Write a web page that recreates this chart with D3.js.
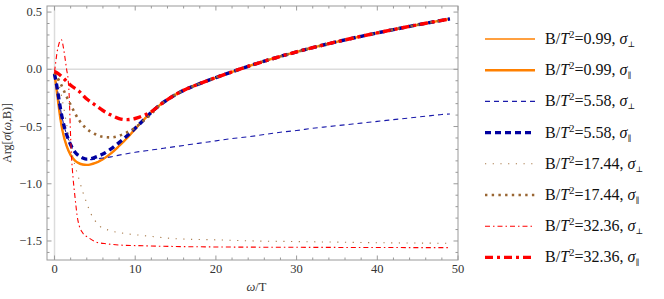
<!DOCTYPE html>
<html>
<head>
<meta charset="utf-8">
<script src="https://cdn.jsdelivr.net/npm/d3@7"></script>
<style>
  body { margin: 0; background: #fff; }
  text { font-family: "Liberation Serif", "Times New Roman", "DejaVu Serif", serif; }
</style>
</head>
<body>
<svg id="chart" width="664" height="299"></svg>
<script>
/* values: omega/T and Arg[sigma] */

// common tail that all the "parallel" curves and the B=0.99 curves share
var tailW = [13, 14, 15, 16, 17, 18, 20, 22, 24, 26, 28, 30, 32, 34, 36, 38, 40, 42, 44, 46, 48, 49];
var tailV = [-0.315, -0.265, -0.221, -0.184, -0.153, -0.125, -0.072, -0.022, 0.026, 0.071, 0.113, 0.152, 0.189, 0.224, 0.257, 0.288, 0.318, 0.347, 0.375, 0.402, 0.428, 0.44];

var orangeW = [0, 0.25, 0.5, 0.75, 1, 1.5, 2, 2.5, 3, 3.5, 4, 4.5, 5, 6, 7, 8, 9, 10, 11, 12];
var orangeV = [-0.04, -0.17, -0.31, -0.44, -0.54, -0.67, -0.75, -0.795, -0.82, -0.832, -0.835, -0.83, -0.82, -0.785, -0.735, -0.67, -0.6, -0.52, -0.445, -0.375];

var blueParW = [0, 0.25, 0.5, 0.75, 1, 1.5, 2, 2.5, 3, 3.5, 4, 4.5, 5, 6, 7, 8, 9, 10, 11, 12];
var blueParV = [-0.04, -0.13, -0.24, -0.35, -0.44, -0.57, -0.66, -0.72, -0.755, -0.775, -0.785, -0.782, -0.77, -0.74, -0.695, -0.64, -0.58, -0.515, -0.445, -0.375];

var bluePerpW = [0, 0.25, 0.5, 0.75, 1, 1.5, 2, 2.5, 3, 3.5, 4, 5, 6, 7, 8, 10, 12, 14, 16, 18, 20, 22, 24, 26, 28, 30, 32, 34, 36, 38, 40, 42, 44, 46, 48, 49];
var bluePerpV = [-0.04, -0.13, -0.24, -0.35, -0.44, -0.57, -0.66, -0.72, -0.755, -0.78, -0.79, -0.785, -0.775, -0.765, -0.75, -0.725, -0.705, -0.685, -0.665, -0.645, -0.625, -0.605, -0.59, -0.57, -0.55, -0.535, -0.515, -0.5, -0.485, -0.47, -0.455, -0.44, -0.425, -0.41, -0.395, -0.39];

var brownPerpW = [0, 0.5, 1, 1.5, 2, 2.5, 3, 3.5, 4, 4.5, 5, 5.6, 6.7, 8.3, 10, 12, 15, 20, 25, 30, 35, 40, 45, 49];
var brownPerpV = [-0.03, -0.12, -0.28, -0.48, -0.67, -0.83, -0.95, -1.07, -1.17, -1.26, -1.32, -1.37, -1.405, -1.43, -1.445, -1.46, -1.48, -1.49, -1.5, -1.505, -1.51, -1.515, -1.518, -1.52];

var brownParW = [0, 0.5, 1, 1.5, 2, 3, 4, 5, 6, 7, 8, 9, 10, 11, 12];
var brownParV = [-0.03, -0.09, -0.16, -0.24, -0.31, -0.44, -0.52, -0.565, -0.59, -0.595, -0.58, -0.55, -0.51, -0.45, -0.39];

var redPerpW = [0, 0.15, 0.3, 0.5, 0.7, 0.85, 1, 1.15, 1.3, 1.5, 1.7, 1.85, 1.95, 2.1, 2.3, 2.5, 2.9, 3.5, 4.2, 5.2, 6.5, 8, 10, 15, 20, 30, 40, 49];
var redPerpV = [-0.02, 0.06, 0.14, 0.21, 0.25, 0.26, 0.23, 0.17, 0.1, 0.0, -0.1, -0.28, -0.5, -0.75, -0.95, -1.09, -1.32, -1.43, -1.47, -1.51, -1.525, -1.535, -1.54, -1.548, -1.552, -1.555, -1.557, -1.558];

var redParW = [0, 0.5, 1, 2, 3, 4, 5, 6, 7, 8, 9, 10, 11, 12];
var redParV = [-0.02, -0.04, -0.07, -0.14, -0.19, -0.26, -0.31, -0.36, -0.4, -0.43, -0.44, -0.43, -0.405, -0.37];

var fieldLabels = ["0.99", "0.99", "5.58", "5.58", "17.44", "17.44", "32.36", "32.36"];
var xTicks = [0, 10, 20, 30, 40, 50];
var yTicks = [-1.5, -1.0, -0.5, 0.0, 0.5];

/* build point lists */
var pts = function(w, v) {
  return w.map(function(d, i) { return { w: d, v: v[i] }; });
};
var withTail = function(w, v) {
  return pts(w.concat(tailW), v.concat(tailV));
};

var series = [
  { b: fieldLabels[0], par: false, data: withTail(orangeW, orangeV), color: "#ff8000", width: 1.3, dash: null },
  { b: fieldLabels[1], par: true,  data: withTail(orangeW, orangeV), color: "#ff8000", width: 2.4, dash: null },
  { b: fieldLabels[2], par: false, data: pts(bluePerpW, bluePerpV), color: "#1a1aaa", width: 1.1, dash: "5,4" },
  { b: fieldLabels[3], par: true,  data: withTail(blueParW, blueParV), color: "#0000a0", width: 3.4, dash: "6,4" },
  { b: fieldLabels[4], par: false, data: pts(brownPerpW, brownPerpV), color: "#a87a4a", width: 1.1, dash: "1.2,6.5" },
  { b: fieldLabels[5], par: true,  data: withTail(brownParW, brownParV), color: "#996633", width: 2.6, dash: "2.4,4.3" },
  { b: fieldLabels[6], par: false, data: pts(redPerpW, redPerpV), color: "#ff0000", width: 1.1, dash: "5,3,1.5,3" },
  { b: fieldLabels[7], par: true,  data: withTail(redParW, redParV), color: "#ff0000", width: 3.4, dash: "8,4,3,4" }
];

/* scales */
var plotL = 47, plotR = 458, plotT = 6, plotB = 260;
var x = d3.scaleLinear().domain([-0.93, 50]).range([plotL, plotR]);
var y = d3.scaleLinear().domain([-1.666, 0.553]).range([plotB, plotT]);

var svg = d3.select("#chart");

// axes through the origin (light gray)
svg.append("line").attr("x1", plotL).attr("x2", plotR).attr("y1", y(0)).attr("y2", y(0))
  .attr("stroke", "#dcdcdc").attr("stroke-width", 1.5);
svg.append("line").attr("x1", x(0)).attr("x2", x(0)).attr("y1", plotT).attr("y2", plotB)
  .attr("stroke", "#dcdcdc").attr("stroke-width", 1.5);

/* curves */
svg.append("clipPath").attr("id", "clip").append("rect")
  .attr("x", plotL).attr("y", plotT).attr("width", plotR - plotL).attr("height", plotB - plotT);

var line = d3.line()
  .x(function(d) { return x(d.w); })
  .y(function(d) { return y(d.v); })
  .curve(d3.curveMonotoneX);

var plot = svg.append("g").attr("clip-path", "url(#clip)");
series.forEach(function(s) {
  plot.append("path")
    .attr("d", line(s.data))
    .attr("fill", "none")
    .attr("stroke", s.color)
    .attr("stroke-width", s.width)
    .attr("stroke-dasharray", s.dash);
});

/* frame with Mathematica-style inward ticks */
var frameColor = "#9a9a9a";
svg.append("rect").attr("x", plotL).attr("y", plotT).attr("width", plotR - plotL).attr("height", plotB - plotT)
  .attr("fill", "none").attr("stroke", frameColor).attr("stroke-width", 1);

var minorX = d3.range(0, 50.01, 2);
minorX.forEach(function(t) {
  var len = (t % 10 === 0) ? 4.5 : 2.5;
  svg.append("line").attr("x1", x(t)).attr("x2", x(t)).attr("y1", plotB).attr("y2", plotB - len)
    .attr("stroke", frameColor);
  svg.append("line").attr("x1", x(t)).attr("x2", x(t)).attr("y1", plotT).attr("y2", plotT + len)
    .attr("stroke", frameColor);
});
var minorY = d3.range(-16, 6).map(function(k) { return k / 10; });
minorY.forEach(function(t) {
  var len = (Math.abs(t * 2 - Math.round(t * 2)) < 1e-6) ? 4.5 : 2.5;
  svg.append("line").attr("x1", plotL).attr("x2", plotL + len).attr("y1", y(t)).attr("y2", y(t))
    .attr("stroke", frameColor);
  svg.append("line").attr("x1", plotR).attr("x2", plotR - len).attr("y1", y(t)).attr("y2", y(t))
    .attr("stroke", frameColor);
});

var fmtY = function(t) { return d3.format(".1f")(t).replace("-", "\u2212"); };

svg.selectAll(".xt").data(xTicks).enter().append("text")
  .attr("x", function(d) { return x(d); }).attr("y", 273)
  .attr("text-anchor", "middle").attr("font-size", 12.5).attr("fill", "#333")
  .text(function(d) { return d; });

svg.selectAll(".yt").data(yTicks).enter().append("text")
  .attr("x", 42).attr("y", function(d) { return y(d) + 4; })
  .attr("text-anchor", "end").attr("font-size", 12.5).attr("fill", "#333")
  .text(fmtY);

/* axis labels */
var xl = svg.append("text").attr("x", (plotL + plotR) / 2 + 4).attr("y", 291)
  .attr("text-anchor", "middle").attr("font-size", 12.5).attr("fill", "#333");
xl.append("tspan").attr("font-style", "italic").text("\u03c9");
xl.append("tspan").text("/T");

var yl = svg.append("text").attr("transform", "translate(11," + ((plotT + plotB) / 2) + ") rotate(-90)")
  .attr("text-anchor", "middle").attr("font-size", 12).attr("fill", "#333");
yl.append("tspan").text("Arg[");
yl.append("tspan").attr("font-style", "italic").text("\u03c3");
yl.append("tspan").text("(");
yl.append("tspan").attr("font-style", "italic").text("\u03c9");
yl.append("tspan").text(",B)]");

/* legend */
var legend = svg.append("g");
series.forEach(function(s, i) {
  var ly = 39 + i * 31.2;
  legend.append("line").attr("x1", 485).attr("x2", 535).attr("y1", ly).attr("y2", ly)
    .attr("stroke", s.color).attr("stroke-width", s.width).attr("stroke-dasharray", s.dash);
  var t = legend.append("text").attr("x", 545).attr("y", ly + 5).attr("font-size", 16).attr("fill", "#111");
  t.append("tspan").text("B/");
  t.append("tspan").attr("font-style", "italic").text("T");
  t.append("tspan").attr("font-size", 11).attr("dy", -6).text("2");
  t.append("tspan").attr("dy", 6).text("=" + s.b + ", ");
  t.append("tspan").attr("font-style", "italic").text("\u03c3");
  t.append("tspan").attr("font-size", 8).attr("dy", 3).text(s.par ? "\u2225" : "\u22a5");
});
</script>
</body>
</html>
